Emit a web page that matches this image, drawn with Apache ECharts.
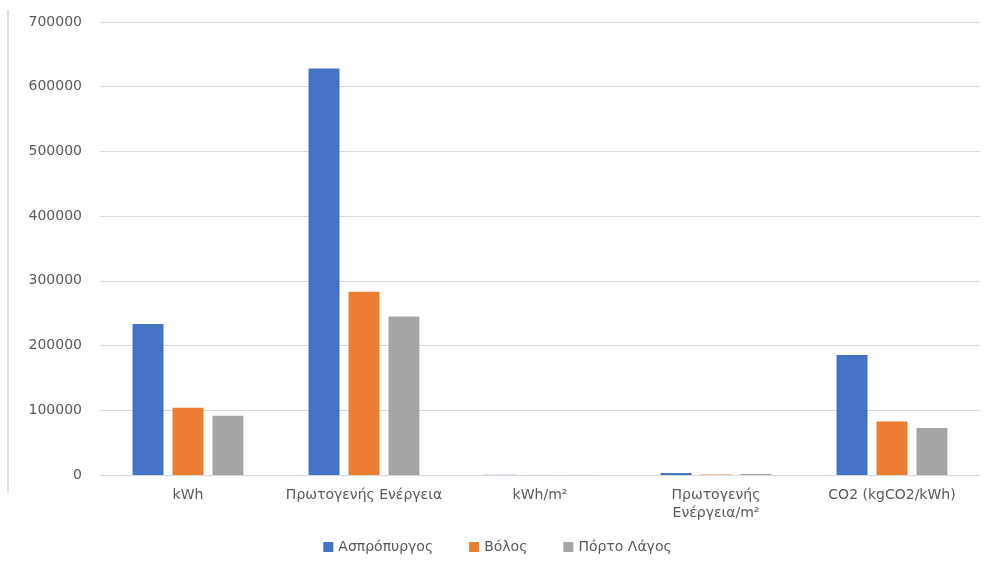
<!DOCTYPE html>
<html>
<head>
<meta charset="utf-8">
<script src="https://cdn.jsdelivr.net/npm/echarts@6/dist/echarts.min.js"></script>
<style>
  html, body { margin: 0; padding: 0; background: #fff; }
  #main { width: 995px; height: 562px; }
</style>
</head>
<body>
<div id="main"></div>
<script>
const categories = ['kWh', 'Πρωτογενής Ενέργεια', 'kWh/m²', 'Πρωτογενής Ενέργεια/m²', 'CO2 (kgCO2/kWh)']
const aspropyrgos = [233500, 628000, 300, 3000, 185500]
const volos = [104000, 283000, 130, 700, 82500]
const portoLagos = [91500, 245000, 110, 1700, 72500]
const yTicks = [0, 100000, 200000, 300000, 400000, 500000, 600000, 700000]

const myChart = echarts.init(document.querySelector('#main'))
const font = '"DejaVu Sans", "Noto Sans", sans-serif'

myChart.setOption({
  textStyle: { fontFamily: font },
  color: ['#4472c4', '#ed7d31', '#a5a5a5'],
  // left edge line of the pasted picture
  graphic: [{
    type: 'line',
    shape: { x1: 8, y1: 10, x2: 8, y2: 492 },
    style: { stroke: '#d9d9d9', lineWidth: 1.5 }
  }],
  legend: {
    bottom: 3,
    left: 'center',
    itemWidth: 10,
    itemHeight: 10,
    itemGap: 36,
    icon: 'rect',
    textStyle: { color: '#595959', fontSize: 14, fontFamily: font }
  },
  grid: { left: 100, right: 15, top: 22, bottom: 87 },
  xAxis: {
    type: 'category',
    data: categories,
    axisLine: { lineStyle: { color: '#d9d9d9', width: 1 } },
    axisTick: { show: false },
    axisLabel: {
      interval: 0,
      color: '#595959',
      fontSize: 14,
      margin: 11,
      lineHeight: 18,
      formatter: v => v === 'Πρωτογενής Ενέργεια/m²' ? 'Πρωτογενής\nΕνέργεια/m²' : v
    }
  },
  yAxis: {
    type: 'value',
    min: yTicks[0],
    max: yTicks[yTicks.length - 1],
    interval: 100000,
    axisLine: { show: false },
    axisTick: { show: false },
    axisLabel: { color: '#595959', fontSize: 14, margin: 18, formatter: v => String(v) },
    splitLine: { lineStyle: { color: '#d9d9d9', width: 1 } }
  },
  series: [
    { name: 'Ασπρόπυργος', type: 'bar', data: aspropyrgos, barGap: '29%', barCategoryGap: '37%' },
    { name: 'Βόλος', type: 'bar', data: volos },
    { name: 'Πόρτο Λάγος', type: 'bar', data: portoLagos }
  ]
})
</script>
</body>
</html>
